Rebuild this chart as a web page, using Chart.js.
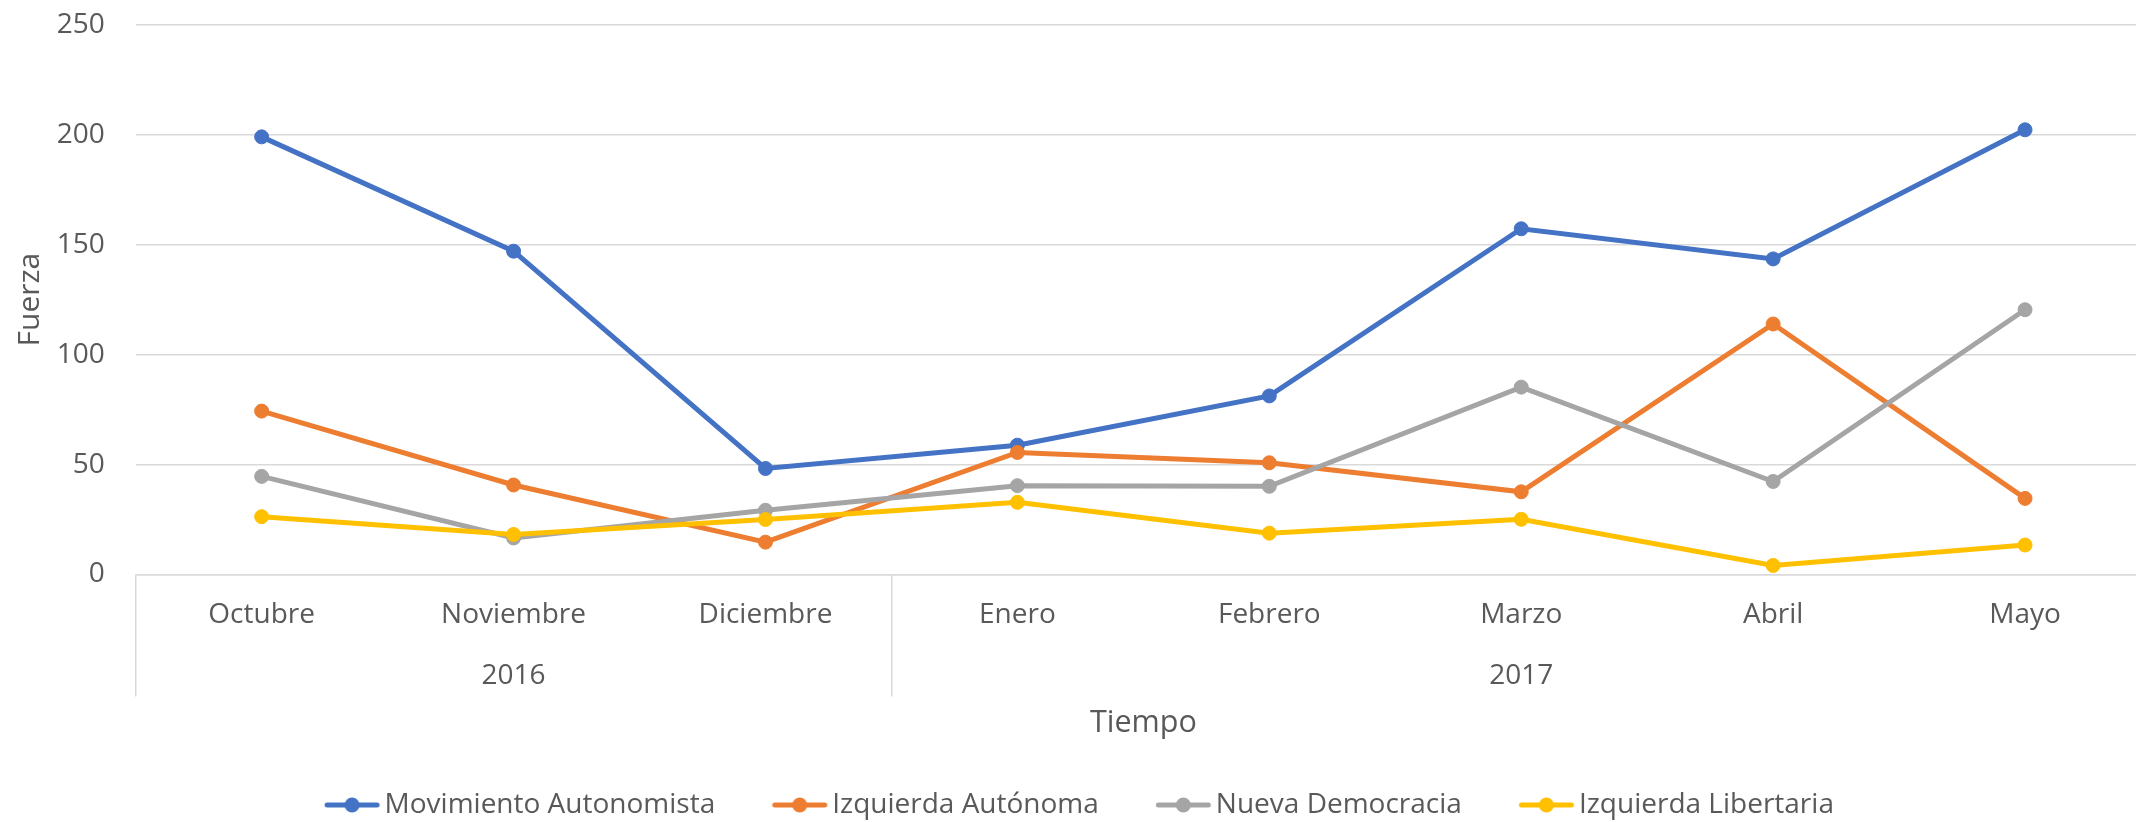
<!DOCTYPE html>
<html>
<head>
<meta charset="utf-8">
<title>Fuerza en el tiempo</title>
<script src="https://cdn.jsdelivr.net/npm/chart.js@4.4.1/dist/chart.umd.min.js"></script>
<style>
	html, body { margin: 0; padding: 0; background: #fff; overflow: hidden; }
	#chart { display: block; }
</style>
</head>
<body>
<canvas id="chart" width="2160" height="840"></canvas>
<script>
const months = ['Octubre', 'Noviembre', 'Diciembre', 'Enero', 'Febrero', 'Marzo', 'Abril', 'Mayo'];
const years = ['2016', '2017'];
const monthsPerYear = [3, 5];

const seriesNames = ['Movimiento Autonomista', 'Izquierda Autónoma', 'Nueva Democracia', 'Izquierda Libertaria'];
const movimientoAutonomista = [199, 147, 48.2, 58.8, 81.2, 157.2, 143.5, 202.2];
const izquierdaAutonoma = [74.3, 40.7, 14.7, 55.5, 50.8, 37.6, 113.9, 34.6];
const nuevaDemocracia = [44.6, 16.6, 29.2, 40.4, 40.1, 85.2, 42.3, 120.4];
const izquierdaLibertaria = [26.3, 18.2, 25, 32.8, 18.8, 25.1, 4.1, 13.4];

const yTicks = [0, 50, 100, 150, 200, 250];

const colors = ['#4472C4', '#ED7D31', '#A5A5A5', '#FFC000'];
const textColor = '#595959';
const gridColor = '#D9D9D9';
const fontFamily = "'Open Sans', sans-serif";

// month on the first line, year only under the middle month of its group
function buildLabels() {
	const labels = months.map((m) => [m, '']);
	let start = 0;
	years.forEach((year, i) => {
		labels[start + Math.floor(monthsPerYear[i] / 2)][1] = year;
		start += monthsPerYear[i];
	});
	return labels;
}

// grid line indexes where a year group starts or ends
function yearDividers() {
	const out = [0];
	let sum = 0;
	monthsPerYear.forEach((n) => {
		sum += n;
		out.push(sum);
	});
	return out;
}

function legendIcon(color) {
	const icon = document.createElement('canvas');
	icon.width = 100;
	icon.height = 18;
	const ctx = icon.getContext('2d');
	ctx.strokeStyle = color;
	ctx.lineWidth = 5;
	ctx.lineCap = 'round';
	ctx.beginPath();
	ctx.moveTo(33.25, 9);
	ctx.lineTo(83.25, 9);
	ctx.stroke();
	ctx.fillStyle = color;
	ctx.beginPath();
	ctx.arc(58.25, 9, 7.5, 0, Math.PI * 2);
	ctx.fill();
	return icon;
}

function createChart() {
	const values = [movimientoAutonomista, izquierdaAutonoma, nuevaDemocracia, izquierdaLibertaria];
	const icons = colors.map(legendIcon);
	const dividers = yearDividers();

	const datasets = seriesNames.map((name, i) => ({
		label: name,
		data: values[i],
		borderColor: colors[i],
		backgroundColor: colors[i],
		pointBackgroundColor: colors[i],
		pointBorderColor: colors[i],
		borderWidth: 5,
		pointRadius: 7,
		pointBorderWidth: 1,
		tension: 0,
		order: seriesNames.length - 1 - i,
	}));

	const ctx = document.getElementById('chart').getContext('2d');
	new Chart(ctx, {
		type: 'line',
		data: {
			labels: buildLabels(),
			datasets: datasets,
		},
		options: {
			responsive: false,
			animation: false,
			layout: {
				padding: { top: 24.7, right: 9, bottom: 11, left: 0 },
			},
			plugins: {
				tooltip: { enabled: false },
				legend: {
					position: 'bottom',
					labels: {
						color: textColor,
						font: { family: fontFamily, size: 28 },
						usePointStyle: true,
						pointStyleWidth: 53.5,
						padding: 49.5,
						generateLabels: (chart) =>
							Chart.defaults.plugins.legend.labels
								.generateLabels(chart)
								.sort((a, b) => a.datasetIndex - b.datasetIndex)
								.map((item) => ({ ...item, pointStyle: icons[item.datasetIndex] })),
					},
				},
			},
			scales: {
				x: {
					offset: true,
					afterFit: (scale) => {
						scale.height = 167;
					},
					border: { color: gridColor, width: 1.5 },
					grid: {
						offset: true,
						drawOnChartArea: false,
						drawTicks: true,
						tickLength: 122,
						lineWidth: 1.5,
						color: (c) => (dividers.includes(c.index) ? gridColor : 'rgba(0,0,0,0)'),
					},
					ticks: {
						color: textColor,
						font: { family: fontFamily, size: 28, lineHeight: 61 / 28 },
						padding: -111.5,
						maxRotation: 0,
						autoSkip: false,
					},
					title: {
						display: true,
						text: 'Tiempo',
						color: textColor,
						font: { family: fontFamily, size: 30.5 },
						padding: { top: 0, bottom: 0 },
					},
				},
				y: {
					min: yTicks[0],
					max: yTicks[yTicks.length - 1],
					afterFit: (scale) => {
						scale.width = 135.7;
						scale.paddingTop = 0;
						scale.paddingBottom = 0;
					},
					border: { display: false },
					grid: {
						color: gridColor,
						lineWidth: 1.5,
						drawTicks: false,
					},
					ticks: {
						stepSize: yTicks[1] - yTicks[0],
						color: textColor,
						font: { family: fontFamily, size: 28 },
						padding: 31,
					},
					title: {
						display: true,
						text: 'Fuerza',
						color: textColor,
						font: { family: fontFamily, size: 30 },
						padding: { top: 12, bottom: 0 },
					},
				},
			},
		},
	});
}

document.addEventListener('DOMContentLoaded', () => {
	document.fonts.load("28px 'Open Sans'").then(createChart, createChart);
});
</script>
</body>
</html>
